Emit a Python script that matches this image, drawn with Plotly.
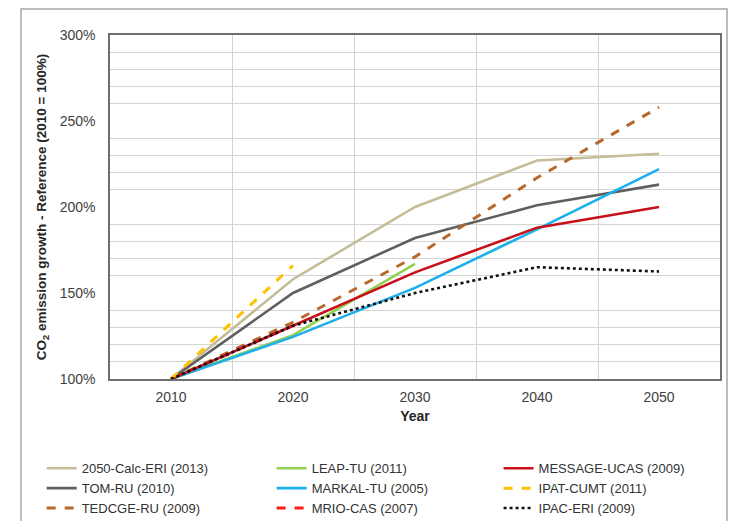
import plotly.graph_objects as go

# Model years
years = [2010, 2020, 2030, 2040, 2050]

# CO2 emission growth relative to 2010 (%), per model study
calc_eri = [100, 158, 200, 227, 231]
tom_ru = [100, 150, 182, 201, 213]
tedcge_ru = [100, 133, 171, 217, 258]
leap_tu = [100, 125.5, 167]
markal_tu = [100, 124.5, 153, 187, 222]
mrio_cas = [100, 131]
message_ucas = [100, 131, 162, 188, 200]
ipat_cumt = [100, 166]
ipac_eri = [100, 131, 150, 165, 162.5]

series = [
    # name, values, colour, dash, width, legend column
    ("2050-Calc-ERI (2013)", calc_eri, "#C4BD97", "solid", 2.6, "legend"),
    ("TOM-RU (2010)", tom_ru, "#5F5F5F", "solid", 2.6, "legend"),
    ("TEDCGE-RU (2009)", tedcge_ru, "#B8682A", "dash", 3.0, "legend"),
    ("LEAP-TU (2011)", leap_tu, "#92D050", "solid", 2.6, "legend2"),
    ("MARKAL-TU (2005)", markal_tu, "#1BB0EA", "solid", 2.6, "legend2"),
    ("MRIO-CAS (2007)", mrio_cas, "#FF1A1A", "dash", 3.0, "legend2"),
    ("MESSAGE-UCAS (2009)", message_ucas, "#C8101A", "solid", 2.6, "legend3"),
    ("IPAT-CUMT (2011)", ipat_cumt, "#FFC000", "dash", 3.0, "legend3"),
    ("IPAC-ERI (2009)", ipac_eri, "#111111", "dot", 2.6, "legend3"),
]

FONT = "Liberation Sans, Arial, sans-serif"

fig = go.Figure()
for name, vals, color, dash, width, leg in series:
    fig.add_trace(go.Scatter(
        x=years[:len(vals)], y=vals, name=name, mode="lines",
        line=dict(color=color, dash=dash, width=width),
        legend=leg,
    ))

legend_common = dict(
    orientation="v", yanchor="top", xanchor="left", y=-0.216,
    font=dict(family=FONT, size=13, color="#333333"),
    bgcolor="rgba(0,0,0,0)", tracegroupgap=0, itemwidth=30,
)

fig.update_layout(
    width=729, height=521,
    margin=dict(l=110, r=9, t=35, b=142, autoexpand=False),
    paper_bgcolor="white", plot_bgcolor="white",
    font=dict(family=FONT, size=14, color="#404040"),
    showlegend=True,
    legend=dict(x=-0.112, **legend_common),
    legend2=dict(x=0.265, **legend_common),
    legend3=dict(x=0.637, **legend_common),
    xaxis=dict(
        range=[2005, 2055], dtick=10, tick0=2010,
        showgrid=False, zeroline=False,
        minor=dict(dtick=5, tick0=2005, showgrid=True, gridcolor="#D4D4D4", gridwidth=1),
        showline=True, linecolor="#6E6E6E", linewidth=1.5, mirror=True,
        ticks="", ticklabelstandoff=4,
        tickfont=dict(family=FONT, size=14, color="#404040"),
        title=dict(text="<b>Year</b>", standoff=8,
                   font=dict(family=FONT, size=14, color="#262626")),
    ),
    yaxis=dict(
        range=[100, 300], dtick=50, tick0=100, ticksuffix="%",
        showgrid=False, zeroline=False,
        minor=dict(dtick=10, tick0=100, showgrid=True, gridcolor="#D4D4D4", gridwidth=1),
        showline=True, linecolor="#6E6E6E", linewidth=1.5, mirror=True,
        ticks="", ticklabelstandoff=10,
        tickfont=dict(family=FONT, size=14, color="#404040"),
        title=dict(text="<b>CO<sub>2</sub> emission growth - Reference (2010 = 100%)</b>",
                   standoff=10,
                   font=dict(family=FONT, size=13.5, color="#262626")),
    ),
    shapes=[dict(
        type="rect", xref="paper", yref="paper",
        x0=-0.1459, x1=1.0115, y0=-0.45, y1=1.0756,
        line=dict(color="#BDBDBD", width=2), fillcolor="rgba(0,0,0,0)",
        layer="below",
    )],
)

fig.write_html("out.html")
